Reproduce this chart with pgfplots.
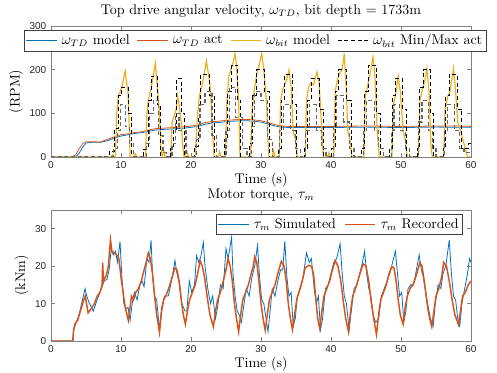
\documentclass[border=0pt]{standalone}
\usepackage{fontspec}
\usepackage{pgfplots}
\pgfplotsset{compat=1.18}
\newfontfamily\ticksf{Liberation Sans}
\definecolor{mblue}{RGB}{0,114,189}
\definecolor{morange}{RGB}{217,83,25}
\definecolor{myellow}{RGB}{237,177,32}
\pgfplotsset{
  mystyle/.style={
    scale only axis, width=315pt, height=98.25pt,
    xmin=0, xmax=60, xtick={0,10,...,60},
    axis line style={black!50, line width=0.6pt},
    tick style={black!50, line width=0.5pt},
    tick align=inside, major tick length=3pt,
    tick label style={font=\ticksf\fontsize{7.5}{8}\selectfont, text=black!85},
    /pgf/number format/assume math mode=true,
    label style={font=\fontsize{10.5}{12}\selectfont},
    title style={font=\fontsize{10.5}{12}\selectfont, yshift=-3pt},
    xlabel={Time (s)},
    xlabel style={yshift=4pt},
    legend cell align=left,
    legend style={font=\fontsize{10.5}{12}\selectfont, draw=black!75, line width=0.5pt,
      inner sep=1pt, row sep=-2pt},
    legend image code/.code={\draw[#1] (0cm,0cm) -- (0.8cm,0cm);},
  }
}
\begin{document}
\begin{tikzpicture}
\useasboundingbox (-38.25pt,-162pt) rectangle (334.5pt,117.75pt);
\begin{axis}[mystyle, at={(0,0)}, anchor=south west,
  ymin=0, ymax=300, ytick={0,100,200,300},
  ylabel={(RPM)}, ylabel style={yshift=-2pt},
  title={Top drive angular velocity, $\omega_{TD}$, bit depth = 1733m},
  legend columns=4,
  legend style={at={(-0.064,0.969)}, anchor=north west, /tikz/every odd column/.append style={column sep=1.5pt}, /tikz/every even column/.append style={column sep=3.5pt}},
]
\addplot[mblue, line width=0.6pt] coordinates {
(0,0) (3.5,0) (4,8) (4.5,22) (5,32) (6,34) (7,33.5) (8,37) (9,43) (10,48) (11,51) (12,54) (13,56) (14,59) (15,62) (16,63) (17,64) (18,65) (19,66) (20,68) (21,70) (22,75) (23,78) (24,79) (25,81) (26,82) (27,83) (28,83) (29,82) (30,80) (31,76) (32,71) (33,68.5) (34,67.5) (40,67.5) (45,68.5) (50,67.5) (55,68.5) (60,68)
};
\addplot[morange, line width=0.6pt] coordinates {
(0,0) (3,0) (3.5,5) (4,18) (4.5,30) (5,35) (6,35) (7,34) (7.5,37) (8,40) (9,46) (9.5,48) (10,51) (11,53) (12,56) (13,58) (14,62) (15,65) (16,66) (17,67) (18,68) (19,69) (20,71) (21,73) (22,79) (23,81) (24,82) (25,84) (26,85) (27,86) (28,86) (29,85) (30,83) (31,79) (32,74) (33,71) (34,70) (35,70) (40,70) (45,71) (50,70) (55,71) (58,71) (60,70)
};
\addplot[myellow, line width=0.9pt] coordinates {
(0,0) (8.6,0) (8.8,5) (9.0,0) (9.2,0) (9.4,100) (9.6,140) (9.9,150) (10.2,165) (10.5,190) (10.6,197) (10.8,170) (11.0,150) (11.2,60) (11.3,0) (11.8,0) (12.0,8) (12.3,0) (13.5,0) (13.7,100) (13.9,130) (14.2,150) (14.5,175) (14.9,215) (15.2,160) (15.5,100) (15.7,20) (15.9,0) (16.1,15) (16.3,0) (17.1,0) (17.3,80) (17.6,95) (17.9,110) (18.1,140) (18.3,120) (18.6,80) (18.8,30) (19.0,0) (19.4,15) (19.6,0) (20.6,0) (20.9,90) (21.2,140) (21.6,165) (21.9,190) (22.2,220) (22.5,190) (22.8,150) (23.1,50) (23.3,0) (23.9,0) (24.1,12) (24.3,0) (24.9,0) (25.1,120) (25.4,185) (25.7,200) (26.0,215) (26.3,237) (26.5,210) (26.8,130) (27.0,0) (28.5,0) (28.7,100) (29.0,150) (29.4,190) (29.8,215) (30.1,237) (30.4,200) (30.8,120) (31.1,0) (31.6,0) (31.8,15) (32.0,0) (32.6,0) (32.8,130) (33.1,155) (33.5,170) (33.8,185) (34.0,199) (34.3,160) (34.6,60) (34.9,40) (35.2,0) (36.3,0) (36.5,130) (36.8,160) (37.1,170) (37.5,165) (38.0,195) (38.3,170) (38.7,60) (38.9,0) (39.5,0) (39.7,10) (39.9,0) (40.4,0) (40.6,150) (40.9,176) (41.2,190) (41.6,200) (41.9,237) (42.2,150) (42.4,60) (42.7,40) (43.0,0) (44.7,0) (44.9,140) (45.2,160) (45.5,185) (45.8,210) (46.0,229) (46.3,180) (46.6,60) (46.9,0) (48.7,0) (48.9,120) (49.2,140) (49.4,160) (49.6,185) (49.9,150) (50.3,60) (50.6,40) (50.9,0) (52.5,0) (52.7,130) (53.0,150) (53.4,175) (53.7,203) (54.0,150) (54.3,20) (54.5,0) (56.1,0) (56.3,110) (56.7,140) (57.0,150) (57.5,203) (57.8,150) (58.1,80) (58.5,60) (59.0,30) (59.5,0) (60,0)
};
\addplot[black, line width=0.6pt, dash pattern=on 3pt off 2pt, const plot mark left] coordinates {
(0,0) (8.3,12) (9.1,65) (9.6,140) (10.0,160) (11.0,100) (11.5,0) (13.2,18) (13.9,130) (14.3,185) (15.2,120) (15.7,0) (17.0,20) (17.5,60) (17.9,180) (18.6,100) (19.1,0) (20.5,25) (21.0,90) (21.4,190) (22.7,140) (23.3,0) (24.8,40) (25.2,150) (25.8,210) (26.7,130) (27.1,0) (28.4,30) (28.8,140) (29.3,200) (30.5,150) (31.2,0) (32.5,20) (32.9,130) (33.4,190) (34.5,120) (35.1,0) (36.2,20) (36.6,130) (37.2,180) (38.3,110) (38.9,0) (40.1,20) (40.6,150) (41.1,200) (42.2,130) (42.9,0) (44.3,20) (44.8,150) (45.3,210) (46.5,100) (47.0,0) (48.4,20) (48.8,140) (49.2,180) (50.2,110) (50.8,0) (52.3,20) (52.7,160) (53.2,200) (54.2,100) (54.7,0) (56.0,20) (56.4,140) (56.9,190) (58.0,110) (58.7,20) (59.6,30) (60,30)
};
\addlegendentry{$\omega_{TD}$ model}
\addlegendentry{$\omega_{TD}$ act}
\addlegendentry{$\omega_{bit}$ model}
\addlegendentry{$\omega_{bit}$ Min/Max act}
\addplot[black!60, line width=0.9pt, dash pattern=on 3pt off 2pt, const plot mark left, forget plot] coordinates {
(0,0) (8.9,20) (9.5,60) (9.9,120) (10.6,70) (11.2,30) (11.8,0) (13.6,30) (14.1,100) (14.6,130) (15.4,50) (16.0,10) (16.5,0) (17.3,30) (17.8,100) (18.3,60) (19.3,0) (20.8,40) (21.3,120) (22.0,150) (23.0,50) (23.6,0) (25.0,60) (25.5,160) (26.4,90) (27.4,20) (28.0,0) (28.6,70) (29.1,150) (30.0,130) (30.9,40) (31.6,0) (32.7,60) (33.2,120) (34.2,60) (34.9,20) (35.6,0) (36.4,60) (36.9,120) (37.9,60) (38.7,20) (39.3,0) (40.4,70) (40.8,140) (41.8,80) (42.6,20) (43.3,0) (44.6,60) (45.1,130) (46.2,60) (46.8,20) (47.5,0) (48.6,60) (49.0,120) (49.8,60) (50.6,20) (51.2,0) (52.5,80) (53.0,130) (53.9,60) (54.5,20) (55.0,0) (56.2,60) (56.6,120) (57.6,60) (58.4,20) (59.0,10) (60,10)
};
\end{axis}
\begin{axis}[mystyle, at={(0,-138pt)}, anchor=south west,
  ymin=0, ymax=35, ytick={0,10,20,30},
  ylabel={(kNm)}, ylabel style={yshift=-2pt},
  title={Motor torque, $\tau_m$},
  legend columns=2,
  legend style={at={(0.981,0.969)}, anchor=north east, /tikz/every odd column/.append style={column sep=1.5pt}, /tikz/every even column/.append style={column sep=4pt}},
]
\addplot[mblue, line width=0.6pt] coordinates {
(0,0) (3.15,0) (3.25,3) (3.5,4.5) (4.0,7) (4.5,11) (4.86,14) (5.1,12) (5.5,10) (6.05,8) (6.4,10) (6.8,12) (7.2,14) (7.6,16) (8.0,16.5) (8.3,19) (8.6,24.5) (8.9,23) (9.2,24) (9.5,21) (9.86,26.6) (10.1,18) (10.4,10) (10.7,8.5) (11.0,9) (11.3,5.5) (11.6,10) (11.9,13) (12.3,11) (12.7,15) (13.0,16) (13.3,14.5) (13.7,22) (14.0,21) (14.29,27) (14.5,18) (14.8,12) (15.1,11) (15.5,3) (15.8,9) (16.2,12) (16.76,12) (17.1,15) (17.4,18) (17.71,21.5) (18.0,18) (18.4,15) (18.7,10) (19.14,8) (19.4,8) (19.76,16) (20.1,13) (20.5,15) (20.8,22.8) (21.1,21) (21.4,22.5) (21.76,26.3) (22.0,20) (22.4,14) (22.8,10) (23.1,12) (23.5,6) (23.8,9) (24.2,15) (24.6,14) (25.0,24.7) (25.3,22) (25.8,27.7) (26.0,18) (26.3,12) (26.6,8) (26.9,7) (27.2,5) (27.5,9) (27.9,14) (28.3,12) (28.7,17) (29.1,20) (29.5,25.5) (29.8,17) (30.1,11) (30.4,10) (30.8,5) (31.0,2.5) (31.3,8) (31.6,14) (32.0,12) (32.4,16) (32.8,19) (33.1,19) (33.4,26.7) (33.7,17) (34.0,12) (34.3,13) (34.6,4) (34.9,6) (35.2,12) (35.6,14) (36.0,17) (36.5,23.5) (36.9,21) (37.2,22) (37.6,14) (37.9,10) (38.2,12) (38.5,3) (38.8,6) (39.2,14) (39.6,15) (40.0,18) (40.4,21) (40.8,22) (41.3,26) (41.6,18) (41.9,12) (42.2,10) (42.6,3) (42.9,8) (43.3,14) (43.7,15) (44.1,18) (44.5,21) (44.8,24) (45.1,18) (45.4,14) (45.7,12) (46.0,7) (46.4,5) (46.8,6) (47.2,12) (47.6,14) (48.0,16) (48.4,18) (48.8,21) (49.2,24) (49.5,18) (49.8,12) (50.1,13) (50.4,5) (50.7,8) (51.0,14) (51.4,15) (51.8,15) (52.2,19) (52.6,23) (52.9,19) (53.2,17) (53.6,12) (53.9,9) (54.2,6) (54.6,4) (54.9,10) (55.3,15) (55.7,14) (56.0,18) (56.4,20) (56.9,27) (57.2,18) (57.5,12) (57.8,11) (58.1,6) (58.4,4) (58.7,10) (59.1,14) (59.5,18) (59.8,22) (60,21)
};
\addlegendentry{$\tau_m$ Simulated}
\addplot[morange, line width=1.1pt] coordinates {
(0,0) (3.1,0) (3.2,2.5) (3.4,4.5) (3.8,5.5) (4.2,8) (4.6,10.5) (4.9,12) (5.3,7.5) (5.7,8.5) (6.2,10) (6.6,12) (7.0,13) (7.3,15) (7.38,21) (7.5,16) (7.9,17.5) (8.2,20) (8.5,27) (8.7,24) (9.0,23.5) (9.4,23) (9.7,22) (10.0,17) (10.3,13) (10.6,9) (11.05,5.5)
(11.3,9) (11.5,12) (11.8,11) (12.1,13) (12.5,14) (12.9,16) (13.3,19) (13.6,21) (13.9,23.5) (14.2,22) (14.5,18) (14.8,12) (15.1,7) (15.5,2.3)
(15.8,8) (16.1,11) (16.5,12.5) (16.9,14.5) (17.3,17) (17.7,19.5) (18.0,19) (18.3,16) (18.6,11) (18.9,7) (19.2,4.5)
(19.5,8) (19.8,11) (20.2,13) (20.6,15) (21.0,18.5) (21.3,21.5) (21.6,20) (21.9,17.5) (22.3,12) (22.7,7) (23.2,3.8)
(23.5,8) (23.8,11) (24.2,13) (24.6,16) (25.0,19) (25.3,22) (25.6,20) (25.9,16) (26.2,10) (26.5,6) (26.8,2.5)
(27.1,7) (27.4,11) (27.8,13) (28.2,15) (28.6,18) (28.9,20) (29.1,22.5) (29.4,21) (29.7,16) (30.0,10) (30.3,6) (30.6,2.9)
(30.9,7) (31.2,11) (31.6,13) (32.0,15) (32.4,18) (32.9,21.3) (33.3,20) (33.6,16) (33.9,10) (34.2,6) (34.5,3)
(34.8,7) (35.1,11) (35.5,13.5) (35.9,16) (36.3,19.5) (36.8,20.2) (37.2,20) (37.5,18) (37.8,12) (38.1,6) (38.4,3.3)
(38.7,8) (39.0,12) (39.4,14) (39.8,16) (40.2,19) (40.6,21.5) (41.0,20) (41.4,16) (41.8,10) (42.1,6) (42.5,2.5)
(42.8,8) (43.1,12) (43.5,14) (43.9,16.5) (44.3,19) (44.6,20.6) (45.0,20) (45.4,16) (45.7,11) (46.1,6) (46.5,1.7)
(46.8,7) (47.1,11) (47.5,13) (47.9,15) (48.3,18) (48.7,19.9) (49.0,19.5) (49.3,16) (49.6,11) (49.9,7) (50.3,4.5)
(50.6,9) (50.9,12) (51.3,14) (51.7,15) (52.1,17) (52.4,19) (52.7,21) (53.0,20) (53.4,15) (53.8,9) (54.1,6) (54.4,3.8)
(54.7,8) (55.0,12) (55.4,14) (55.8,17) (56.1,21) (56.5,20) (56.9,16) (57.3,11) (57.7,7) (58.2,4.4)
(58.5,8) (58.8,12) (59.2,13) (59.6,15) (60,16)
};
\addlegendentry{$\tau_m$ Recorded}
\end{axis}
\end{tikzpicture}
\end{document}
